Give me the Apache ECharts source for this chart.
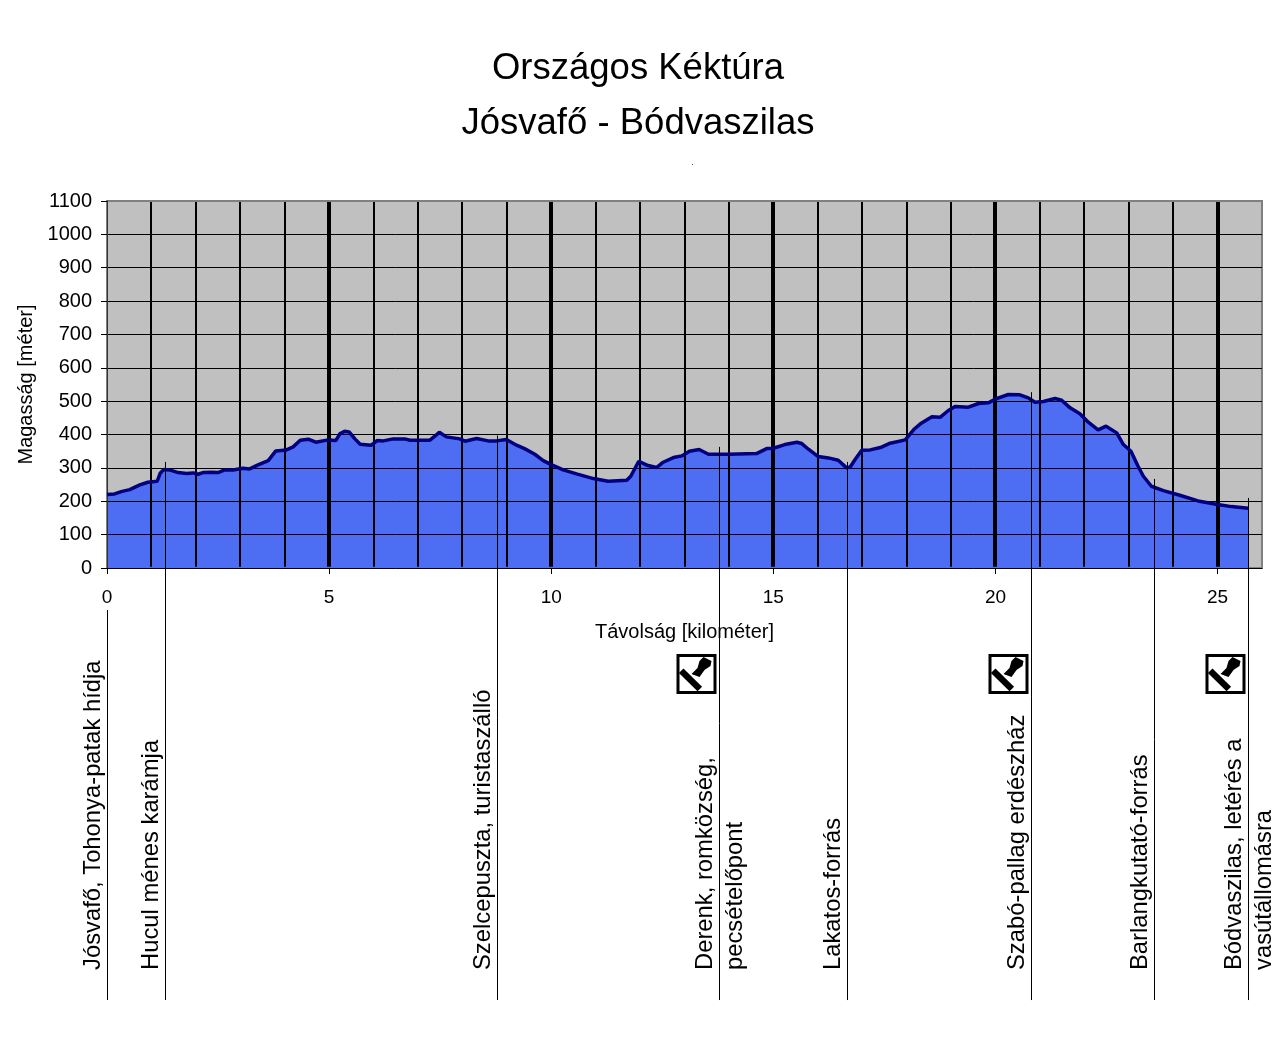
<!DOCTYPE html>
<html>
<head>
<meta charset="utf-8">
<title>Országos Kéktúra</title>
<script src="https://cdn.jsdelivr.net/npm/echarts@6/dist/echarts.min.js"></script>
<style>
  html, body { margin: 0; background: #fff; }
  #chart { width: 1280px; height: 1050px; }
</style>
</head>
<body>
<div id="chart"></div>
<script>
// távolság [km] és magasság [m]
var distances = [0, .17, .32, .51, .74, .92, 1.13, 1.2, 1.28, 1.41, 1.6, 1.79, 1.94, 2.05, 2.16, 2.35, 2.5, 2.65, 2.84, 3.06, 3.21, 3.4, 3.63, 3.8, 4.04, 4.19, 4.35, 4.53, 4.7, 4.98, 5.15, 5.24, 5.35, 5.45, 5.58, 5.7, 5.95, 6.08, 6.22, 6.44, 6.7, 6.82, 7.27, 7.38, 7.48, 7.64, 7.94, 8.06, 8.32, 8.58, 8.77, 8.99, 9.22, 9.41, 9.63, 9.82, 10, 10.27, 10.57, 10.95, 11.28, 11.7, 11.79, 11.97, 12.18, 12.37, 12.52, 12.75, 12.94, 13.11, 13.33, 13.54, 13.99, 14.62, 14.85, 15, 15.26, 15.53, 15.64, 15.79, 16.01, 16.24, 16.46, 16.65, 16.73, 16.84, 16.99, 17.18, 17.41, 17.63, 17.97, 18.16, 18.31, 18.57, 18.76, 18.94, 19.09, 19.39, 19.62, 19.84, 19.99, 20.29, 20.55, 20.74, 20.89, 21.08, 21.34, 21.49, 21.68, 21.9, 22.09, 22.31, 22.49, 22.73, 22.88, 23.05, 23.21, 23.33, 23.51, 23.78, 24.15, 24.56, 24.97, 25.31, 25.69];
var elevations = [220, 222, 229, 235, 249, 257, 260, 285, 295, 294, 286, 283, 285, 281, 286, 287, 286, 294, 294, 299, 297, 309, 322, 351, 354, 363, 383, 386, 377, 384, 382, 402, 410, 408, 387, 371, 368, 382, 381, 387, 387, 383, 383, 395, 407, 393, 387, 380, 388, 381, 381, 385, 368, 357, 341, 322, 310, 294, 282, 268, 260, 263, 275, 320, 307, 301, 317, 331, 336, 350, 355, 341, 341, 343, 358, 359, 370, 377, 373, 356, 334, 330, 323, 300, 303, 325, 353, 354, 361, 374, 384, 415, 432, 453, 452, 472, 484, 482, 493, 495, 506, 520, 519, 510, 497, 499, 508, 503, 480, 462, 437, 414, 425, 405, 370, 350, 305, 275, 245, 232, 218, 201, 191, 184, 179];

var minorKm = [1, 2, 3, 4, 6, 7, 8, 9, 11, 12, 13, 14, 16, 17, 18, 19, 21, 22, 23, 24];
var majorKm = [5, 10, 15, 20, 25];
var xLabels = [0, 5, 10, 15, 20, 25];

// állomások: hely, a függőleges vonal teteje, felirat, van-e pecsételőpont
var stopKm = [0, 1.31, 8.79, 13.77, 16.65, 20.8, 23.57, 25.69];
var stopTop = [-126, 318, 397, 363, 318, 527, 267, 210];
var stopNames = [
  'Jósvafő, Tohonya-patak hídja',
  'Hucul ménes karámja',
  'Szelcepuszta, turistaszálló',
  'Derenk, romközség,\npecsételőpont',
  'Lakatos-forrás',
  'Szabó-pallag erdészház',
  'Barlangkutató-forrás',
  'Bódvaszilas, letérés a\nvasútállomásra'
];
var stopStamp = [0, 0, 0, 1, 0, 1, 0, 1];

var FONT = '"Liberation Sans", Arial, sans-serif';
var LINE_BOTTOM = -1295; // a vonalak alja, a tengely alatt

var profile = distances.map(function (d, i) { return [d, elevations[i]]; });

function stampIcon(right, top) {
  return {
    type: 'group', x: right - 40, y: top,
    children: [
      { type: 'rect', shape: { x: 1.5, y: 1.5, width: 37, height: 37 }, style: { fill: '#fff', stroke: '#000', lineWidth: 3 } },
      { type: 'line', shape: { x1: 4.7, y1: 16.7, x2: 23.3, y2: 35 }, style: { stroke: '#000', lineWidth: 6.5 } },
      { type: 'polygon', shape: { points: [[15, 20], [21, 14], [23, 7], [27, 3], [35, 7], [34, 12], [28, 16], [23, 23]] }, style: { fill: '#000' } }
    ]
  };
}

function renderStop(params, api) {
  var i = params.dataIndex;
  var top = api.coord([api.value(0), api.value(1)]);
  var bottom = api.coord([api.value(0), LINE_BOTTOM]);
  var x = Math.round(top[0]) + 0.5;
  var children = [{
    type: 'line',
    shape: { x1: x, y1: top[1], x2: x, y2: bottom[1] },
    style: { stroke: '#000', lineWidth: 1 }
  }];
  stopNames[i].split('\n').forEach(function (line, n) {
    children.push({
      type: 'text',
      x: x - 14 + n * 30,
      y: 970,
      rotation: Math.PI / 2,
      style: { text: line, font: '23.8px ' + FONT, fill: '#000', align: 'left', verticalAlign: 'middle' }
    });
  });
  if (stopStamp[i]) {
    children.push(stampIcon(x - 3, 654));
  }
  return { type: 'group', children: children };
}

// kilométerenkénti függőleges vonalak, a vastagság a második értékben
function renderKmLine(params, api) {
  var a = api.coord([api.value(0), 4]);
  var b = api.coord([api.value(0), 1097]);
  var x = Math.round(a[0]);
  return {
    type: 'line',
    shape: { x1: x, y1: a[1], x2: x, y2: b[1] },
    style: { stroke: '#000', lineWidth: api.value(1) }
  };
}

var kmLines = minorKm.map(function (k) { return [k, 2]; })
  .concat(majorKm.map(function (k) { return [k, 4]; }));

var myChart = echarts.init(document.getElementById('chart'), null, { renderer: 'canvas' });
myChart.setOption({
  animation: false,
  backgroundColor: '#fff',
  textStyle: { fontFamily: FONT },
  title: {
    text: 'Országos Kéktúra\nJósvafő - Bódvaszilas',
    left: 633,
    top: 36,
    textAlign: 'center',
    textStyle: { fontFamily: FONT, fontSize: 36.5, fontWeight: 'normal', color: '#000', lineHeight: 55 }
  },
  graphic: [
    { type: 'rect', shape: { x: 692, y: 164, width: 1, height: 1 }, style: { fill: '#3344ff' } }
  ],
  grid: {
    left: 107, top: 201, width: 1155, height: 367,
    show: true, backgroundColor: '#C0C0C0', borderColor: '#808080', borderWidth: 2
  },
  xAxis: {
    type: 'value', min: 0, max: 26, interval: 5, z: 2,
    name: 'Távolság [kilométer]',
    nameLocation: 'middle',
    nameGap: 54,
    nameTextStyle: { fontFamily: FONT, fontSize: 20, color: '#000' },
    axisLine: { show: true, lineStyle: { color: '#000', width: 1 } },
    axisTick: { show: true, length: 6, customValues: xLabels, lineStyle: { color: '#000' } },
    axisLabel: { show: true, customValues: xLabels, margin: 20, fontFamily: FONT, fontSize: 19, color: '#000' },
    splitLine: { show: false }
  },
  yAxis: {
    type: 'value', min: 0, max: 1100, interval: 100, z: 2,
    name: 'Magasság [méter]',
    nameLocation: 'middle',
    nameGap: 70,
    nameTextStyle: { fontFamily: FONT, fontSize: 20, color: '#000' },
    axisLine: { show: true, lineStyle: { color: '#333', width: 1 } },
    axisTick: { show: true, length: 6, lineStyle: { color: '#000' } },
    axisLabel: {
      margin: 15, fontFamily: FONT, fontSize: 20, color: '#000', padding: [6, 0, 0, 0],
      formatter: function (v) { return String(v); }
    },
    splitLine: { show: true, showMinLine: false, showMaxLine: false, lineStyle: { color: '#000', width: 1 } }
  },
  series: [
    {
      type: 'line', z: 1, data: profile, showSymbol: false, silent: true,
      lineStyle: { width: 0 },
      areaStyle: { color: '#4D6DF3', opacity: 1 }
    },
    {
      type: 'custom', z: 3, silent: true, renderItem: renderKmLine,
      data: kmLines
    },
    {
      type: 'line', z: 4, data: profile, showSymbol: false, silent: true,
      lineStyle: { color: '#000080', width: 3.5 }
    },
    {
      type: 'custom', z: 5, silent: true, renderItem: renderStop,
      data: stopKm.map(function (k, i) { return [k, stopTop[i]]; })
    }
  ]
});
</script>
</body>
</html>
